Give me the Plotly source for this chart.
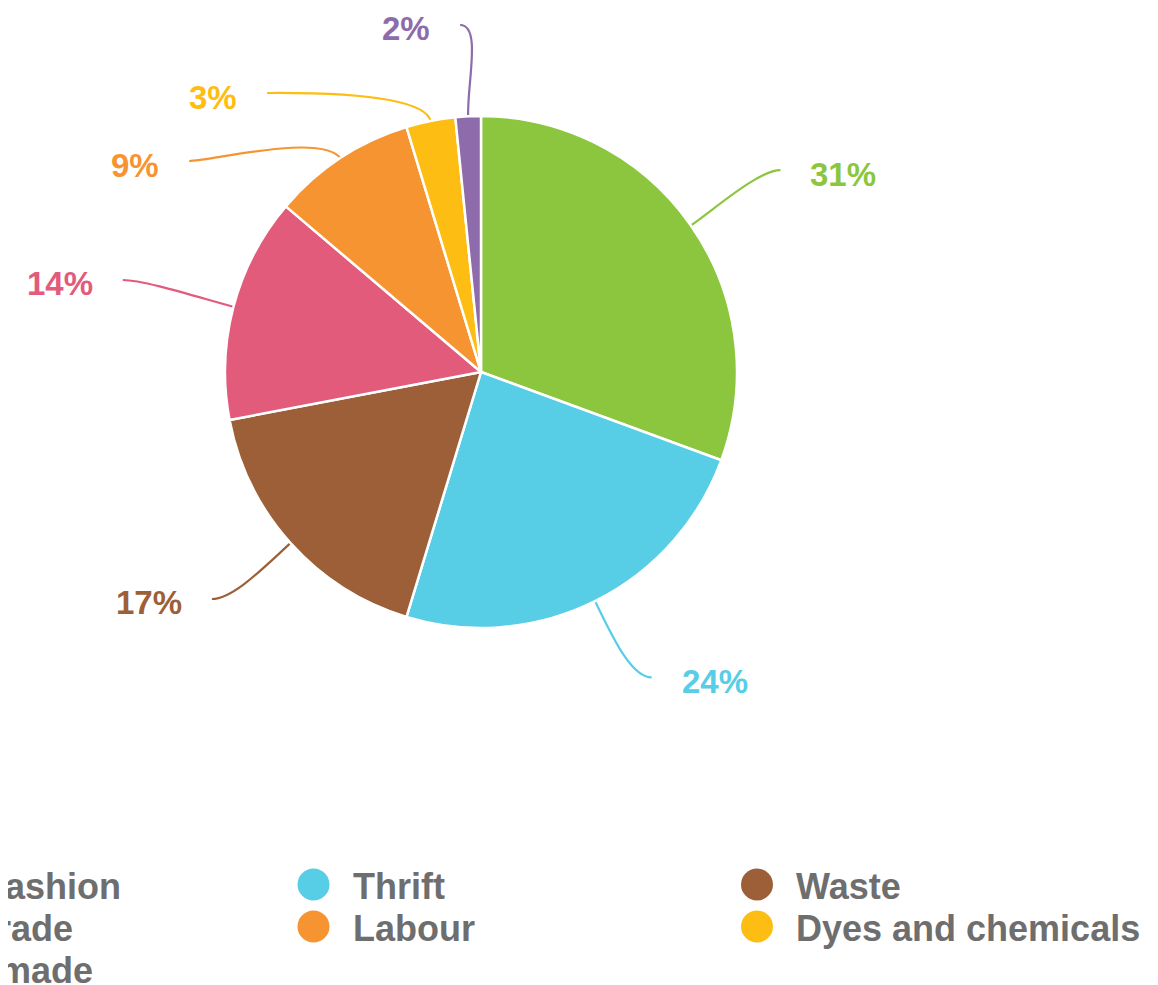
import math
import plotly.graph_objects as go

# ---- data ----
categories = ["Fast fashion", "Thrift", "Waste", "Fair trade", "Labour",
              "Dyes and chemicals", "Handmade"]
values = [30.6, 24.1, 17.3, 14.2, 9.1, 3.1, 1.6]
colors = ["#8CC63F", "#57CDE6", "#9C5F38", "#E25B7B", "#F79432",
          "#FDBD12", "#8E6BAA"]

# ---- layout constants ----
# The page body has an 8px margin, so the figure is made 8px smaller and all
# positions below are given in figure pixels (page pixels minus 8).
OFF = 8
W, H = 1158 - OFF, 985 - OFF
CX, CY, R = 481 - OFF, 372 - OFF, 256
LAB_RX, LAB_RY = 1.56 * R, 1.35 * R   # ellipse for label inner edges
MIN_GAP = 68                          # min vertical spacing between labels
LOWER_CLEAR = 85                      # lower labels clear their anchor by this
TOP_Y = 29 - OFF
FONT = "Liberation Sans, Arial, Helvetica, sans-serif"

fig = go.Figure()

fig.add_trace(go.Pie(
    labels=categories, values=values, sort=False, direction="clockwise",
    rotation=0, textinfo="none", showlegend=False,
    marker=dict(colors=colors, line=dict(color="white", width=2.5)),
    domain=dict(x=[(CX - R) / W, (CX + R) / W],
                y=[(H - CY - R) / H, (H - CY + R) / H]),
    hovertemplate="%{label}: %{percent}<extra></extra>",
))

# ---- outside labels with leader lines, positions derived from the values ----
total = sum(values)
cum = 0.0
items = []
for cat, v, col in zip(categories, values, colors):
    theta = 2 * math.pi * (cum + v / 2) / total
    cum += v
    s, c = math.sin(theta), math.cos(theta)
    side = 1 if s >= 0 else -1
    items.append(dict(cat=cat, v=v, col=col, s=s, c=c, side=side,
                      y=CY - LAB_RY * c,
                      pct=f"{round(100 * v / total)}%"))

for side in (1, -1):
    grp = sorted([it for it in items if it["side"] == side], key=lambda d: d["y"])
    prev = None
    for it in grp:
        y = max(it["y"], TOP_Y)
        if prev is not None:
            y = max(y, prev + MIN_GAP)
        it["y"] = y
        prev = y

shapes = []
annotations = []
for it in items:
    s, c, side = it["s"], it["c"], it["side"]
    p0x, p0y = CX + (R - 1) * s, CY - (R - 1) * c
    dy = it["y"] - CY
    dx = LAB_RX * math.sqrt(max(1 - (dy / LAB_RY) ** 2, 0))
    if dy > 0:
        dx = max(dx, abs(p0x - CX) + LOWER_CLEAR)
    edge_x = CX + side * dx
    p2x, p2y = edge_x - side * 28, it["y"] - 4
    c1x, c1y = p0x + 32 * s, p0y - 32 * c
    c2x, c2y = p2x - side * 22, p2y
    shapes.append(dict(
        type="path", xref="x", yref="y",
        path=f"M {p0x:.1f},{p0y:.1f} C {c1x:.1f},{c1y:.1f} {c2x:.1f},{c2y:.1f} {p2x:.1f},{p2y:.1f}",
        line=dict(color=it["col"], width=2.2), layer="below"))
    annotations.append(dict(
        x=edge_x / W, y=1 - it["y"] / H, xref="paper", yref="paper",
        text=it["pct"], showarrow=False,
        xanchor="left" if side == 1 else "right", yanchor="middle",
        font=dict(family=FONT, size=33, color=it["col"], weight="bold")))

# ---- legend (3 columns, partly cut off at the left like the reference) ----
COLS, COL_X0, COL_DX = 3, -130 - OFF, 443.5
ROW_Y0, ROW_DY = 884.5 - OFF, 42
leg_x, leg_y = [], []
for i, (cat, col) in enumerate(zip(categories, colors)):
    mx = COL_X0 + (i % COLS) * COL_DX
    my = ROW_Y0 + (i // COLS) * ROW_DY
    leg_x.append(mx)
    leg_y.append(my)
    annotations.append(dict(
        x=(mx + 37) / W, y=1 - (my + 2) / H, xref="paper", yref="paper",
        text=cat, showarrow=False, xanchor="left", yanchor="middle",
        font=dict(family=FONT, size=36, color="#6E6E6E", weight="bold")))

fig.add_trace(go.Scatter(
    x=leg_x, y=leg_y, mode="markers", showlegend=False, hoverinfo="skip",
    marker=dict(size=32, color=colors, line=dict(width=0)),
    xaxis="x", yaxis="y"))

fig.update_layout(
    width=W, height=H, margin=dict(l=0, r=0, t=0, b=0),
    paper_bgcolor="white", plot_bgcolor="white", showlegend=False,
    xaxis=dict(range=[0, W], visible=False, fixedrange=True, domain=[0, 1]),
    yaxis=dict(range=[H, 0], visible=False, fixedrange=True, domain=[0, 1]),
    shapes=shapes, annotations=annotations,
    font=dict(family=FONT),
)

fig.write_html("out.html")
